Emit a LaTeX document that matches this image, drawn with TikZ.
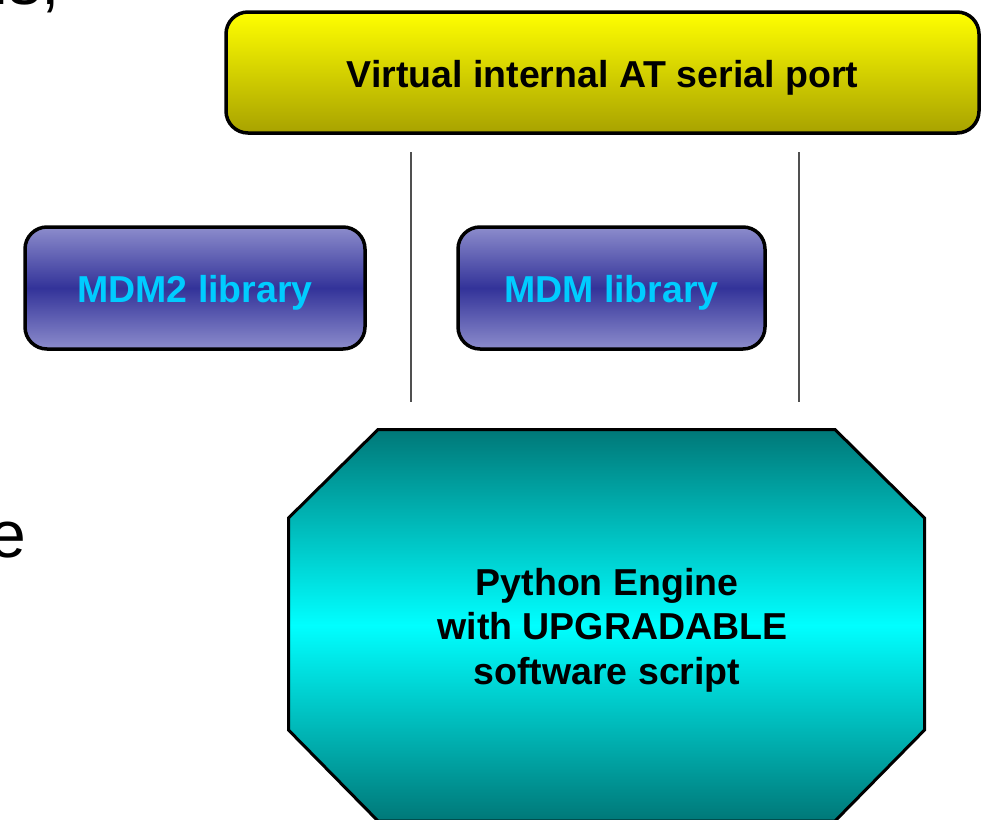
\documentclass[tikz,border=0pt]{standalone}
\usepackage{fontspec}
\setmainfont{Liberation Sans}
\definecolor{portTop}{HTML}{FFFF00}
\definecolor{portBottom}{HTML}{A8A200}
\definecolor{libLight}{HTML}{8C8CCC}
\definecolor{libDark}{HTML}{333399}
\definecolor{libText}{HTML}{00CCFF}
\definecolor{engEdge}{HTML}{007878}
\definecolor{engMid}{HTML}{00FFFF}
\definecolor{sepGray}{HTML}{505050}
\tikzset{
  rbox/.style={draw=black, line width=3.5pt, rounded corners=22pt,
    inner sep=0pt, text height=29pt, text depth=0pt,
    font=\bfseries\fontsize{37.5}{44}\selectfont},
  portbox/.style={rbox, top color=portTop, bottom color=portBottom, text=black},
  libbox/.style={rbox, top color=libLight, bottom color=libLight,
    middle color=libDark, text=libText},
  engine/.style={draw=black, line width=3pt, top color=engEdge,
    bottom color=engEdge, middle color=engMid},
  enginetext/.style={align=center, font=\bfseries\fontsize{37.5}{44.7}\selectfont},
  sepline/.style={draw=sepGray, line width=1.5pt},
  bodytext/.style={inner sep=0pt, font=\fontsize{66}{70}\selectfont}
}
\begin{document}
\begin{tikzpicture}[x=1pt, y=-1pt]
  \useasboundingbox (0,0) rectangle (984,819);
  \clip (0,0) rectangle (984,819);

  % fragments of the surrounding body text
  \node[bodytext, anchor=base east] (txtA) at (60,5) {ls,};
  \node[bodytext, anchor=base east] (txtB) at (26,557) {e};

  % serial port bar
  \node[portbox, minimum width=753pt, minimum height=121pt] (port) at (602.5,72.5)
    {Virtual internal AT serial port};

  % libraries
  \node[libbox, minimum width=340pt, minimum height=122pt] (mdmtwo) at (195,288)
    {MDM2 library};
  \node[libbox, minimum width=307pt, minimum height=122pt] (mdm) at (611.5,288)
    {MDM library};

  % separators
  \coordinate (sepAtop) at (411,152);
  \coordinate (sepAbot) at (411,402);
  \coordinate (sepBtop) at (799,152);
  \coordinate (sepBbot) at (799,402);
  \draw[sepline] (sepAtop) -- (sepAbot);
  \draw[sepline] (sepBtop) -- (sepBbot);

  % python engine octagon
  \path[engine] (378,429.5) -- (835,429.5) -- (924.5,518) -- (924.5,730)
    -- (835,821) -- (378,821) -- (288.5,730) -- (288.5,518) -- cycle;
  \node[enginetext] (engine) at (607,630)
    {Python Engine\\ \hspace*{11pt}with UPGRADABLE\\ software script};
\end{tikzpicture}
\end{document}
